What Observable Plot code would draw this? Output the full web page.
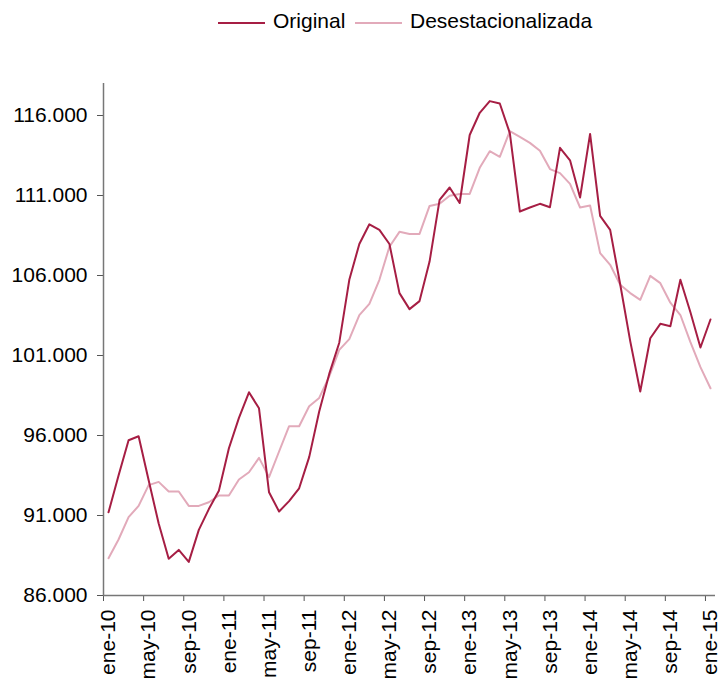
<!DOCTYPE html>
<html>
<head>
<meta charset="utf-8">
<script src="https://cdn.jsdelivr.net/npm/d3@7"></script>
<script src="https://cdn.jsdelivr.net/npm/@observablehq/plot@0.6"></script>
<style>
  body { margin: 0; background: #fff; font-family: "Liberation Sans", Arial, sans-serif; }
  #legend { position: relative; width: 718px; height: 45px; font-size: 21px; color: #000; }
  #legend .sw { position: absolute; top: 22px; height: 2px; width: 47px; }
  #legend .lb { position: absolute; top: 9px; line-height: 24px; }
</style>
</head>
<body>
<div id="legend"></div>
<div id="chart"></div>
<script>
const seriesNames = ["Original", "Desestacionalizada"];
const seriesColors = ["#A61E44", "#E2AABA"];
const monthAbbr = ["ene","feb","mar","abr","may","jun","jul","ago","sep","oct","nov","dic"];
const startYear = 2010;
const original = [
  91200, 93500, 95700, 95950, 93200, 90500, 88300, 88850, 88100, 90100, 91400, 92550,
  95200, 97100, 98700, 97700, 92450, 91250, 91900, 92700, 94650, 97500, 99850, 101800,
  105730, 107970, 109200, 108850, 107970, 104900, 103900, 104400, 106870, 110730, 111500, 110530,
  114780, 116170, 116900, 116750, 114900, 110000, 110250, 110480, 110270, 113980, 113200, 110870,
  114850, 109730, 108850, 105450, 101900, 98750, 102080, 102980, 102830, 105730, 103700, 101500,
  103250
];
const desestacionalizada = [
  88330, 89500, 90900, 91600, 92900, 93100, 92500, 92500, 91600, 91600, 91830, 92250,
  92250, 93250, 93700, 94600, 93400, 95000, 96580, 96580, 97830, 98350, 99700, 101350,
  102020, 103520, 104230, 105730, 107800, 108730, 108600, 108600, 110350, 110480, 110980, 111100,
  111100, 112730, 113770, 113420, 115020, 114660, 114290, 113800, 112650, 112400, 111730, 110250,
  110370, 107400, 106670, 105420, 104900, 104480, 105980, 105520, 104300, 103530, 101830, 100270,
  98950
];
const yTicks = [86000, 91000, 96000, 101000, 106000, 111000, 116000];
const labelMonths = d3.range(0, 61, 4);

const monthLabel = i => monthAbbr[i % 12] + "-" + String((startYear + Math.floor(i / 12)) % 100).padStart(2, "0");
const esLocale = d3.formatLocale({decimal: ",", thousands: ".", grouping: [3], currency: ["", "€"]});
const fmtY = esLocale.format(",.0f");

const rows = [];
original.forEach((v, i) => rows.push({i, v, s: seriesNames[0]}));
desestacionalizada.forEach((v, i) => rows.push({i, v, s: seriesNames[1]}));

// legend
const legend = document.getElementById("legend");
const legendPos = [[218, 273], [355, 410]];
seriesNames.forEach((n, k) => {
  const sw = document.createElement("div");
  sw.className = "sw"; sw.style.left = legendPos[k][0] + "px"; sw.style.background = seriesColors[k];
  const lb = document.createElement("div");
  lb.className = "lb"; lb.style.left = legendPos[k][1] + "px"; lb.textContent = n;
  legend.appendChild(sw); legend.appendChild(lb);
});

const chart = Plot.plot({
  width: 718,
  height: 635,
  marginTop: 38,
  marginBottom: 85,
  marginLeft: 103,
  marginRight: 3,
  style: {fontFamily: "Liberation Sans, Arial, sans-serif", fontSize: "21px", color: "#000", background: "#fff"},
  x: {type: "linear", domain: [-0.5, 60.5]},
  y: {domain: [86000, 118000]},
  color: {domain: seriesNames, range: seriesColors},
  marks: [
    Plot.axisY({ticks: yTicks, tickFormat: fmtY, tickSize: 6, tickPadding: 10, label: null, stroke: "#555"}),
    Plot.axisX({ticks: labelMonths.map(m => m - 0.5), tickSize: 6, tickFormat: () => "", label: null, stroke: "#555"}),
    Plot.axisX({ticks: labelMonths, tickSize: 0, tickPadding: 14, tickRotate: -90, tickFormat: monthLabel, label: null}),
    Plot.ruleX([-0.5], {stroke: "#777", strokeWidth: 1.5}),
    Plot.ruleY([86000], {stroke: "#777", strokeWidth: 1.5}),
    Plot.line(rows.filter(d => d.s === seriesNames[1]), {x: "i", y: "v", stroke: "s", strokeWidth: 2}),
    Plot.line(rows.filter(d => d.s === seriesNames[0]), {x: "i", y: "v", stroke: "s", strokeWidth: 2})
  ]
});
document.getElementById("chart").appendChild(chart);
</script>
</body>
</html>
